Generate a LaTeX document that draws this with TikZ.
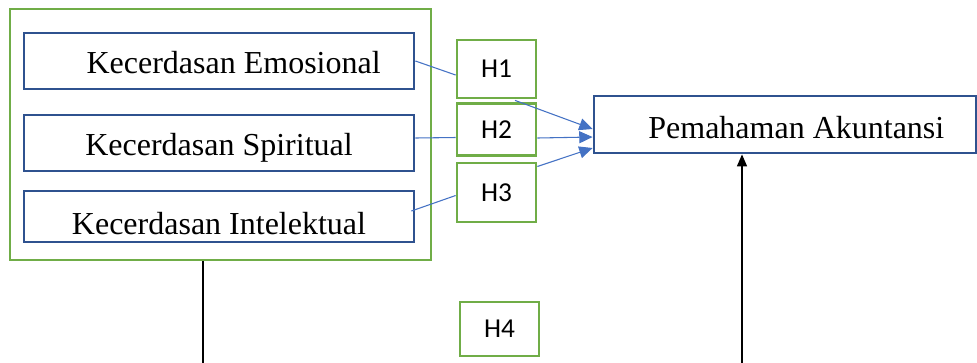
\documentclass[tikz,border=0pt]{standalone}
\usepackage{fontspec}
\setmainfont{Liberation Serif}
\newfontfamily\calib{Carlito}
\usetikzlibrary{arrows.meta,calc}
\definecolor{gbox}{HTML}{70AD47}
\definecolor{bbox}{HTML}{2F528F}
\definecolor{bline}{HTML}{4472C4}
\newcommand{\lowr}[2]{\raisebox{-#1}[\height][\depth]{#2}}
\begin{document}
\begin{tikzpicture}[x=0.75pt,y=-0.75pt,
  varbox/.style={draw=bbox,line width=2.1pt,fill=white,inner sep=0pt,font=\fontsize{24}{28}\selectfont},
  hbox/.style={draw=gbox,line width=2.1pt,fill=white,inner sep=0pt,minimum width=59.25pt,font=\calib\fontsize{20.5}{24}\selectfont},
  conn/.style={draw=bline,line width=0.8pt},
  arr/.style={conn,-{Triangle[length=10pt,width=9pt]}},
  blk/.style={draw=black,line width=1.1pt}]
\useasboundingbox (0,0) rectangle (977,362);
\node[draw=gbox,line width=2.1pt,minimum width=315.75pt,minimum height=188.25pt,inner sep=0pt] (outer) at (220.5,134.5) {};
\node[varbox,minimum width=292.5pt,minimum height=42pt] (KE) at (219,61) {\hspace*{22pt}\lowr{1.5pt}{Kecerdasan Emosional}};
\node[varbox,minimum width=292.5pt,minimum height=42pt] (KS) at (219,143) {\lowr{3.75pt}{Kecerdasan Spiritual}};
\node[varbox,minimum width=292.5pt,minimum height=38.25pt] (KI) at (219,216.5) {\lowr{5.25pt}{Kecerdasan Intelektual}};
\node[hbox,minimum height=43.5pt] (H1) at (496.5,69) {H1};
\node[hbox,minimum height=39pt] (H2) at (496.5,129.5) {H2};
\node[hbox,minimum height=44.25pt] (H3) at (496.5,192.5) {H3};
\node[hbox,minimum height=40.5pt] (H4) at (499.5,329) {H4};
\node[varbox,minimum width=286.5pt,minimum height=42.75pt] (PA) at (785,124.5) {\hspace*{17pt}\lowr{2.25pt}{Pemahaman Akuntansi}};
\coordinate (b1) at (203,363);
\coordinate (b2) at (742,363);
\draw[conn] (KE.east) -- ($(H1.west)+(0,6)$);
\draw[arr] ($(H1.south)+(18.5,1)$) -- ($(PA.west)+(0,4.5)$);
\draw[conn] ($(KS.east)+(0,-5)$) -- ($(H2.west)+(0,8)$);
\draw[arr] ($(H2.east)+(0,8.5)$) -- ($(PA.west)+(0,12.5)$);
\draw[conn] ($(KI.east)+(-4,-5.5)$) -- ($(H3.west)+(0,3)$);
\draw[arr] ($(H3.east)+(0,-26)$) -- ($(PA.west)+(0,23.5)$);
\draw[blk] (outer.south -| b1) -- (b1);
\draw[blk,-{Triangle[length=9pt,width=7.5pt]}] (b2) -- (PA.south -| b2);
\end{tikzpicture}
\end{document}
